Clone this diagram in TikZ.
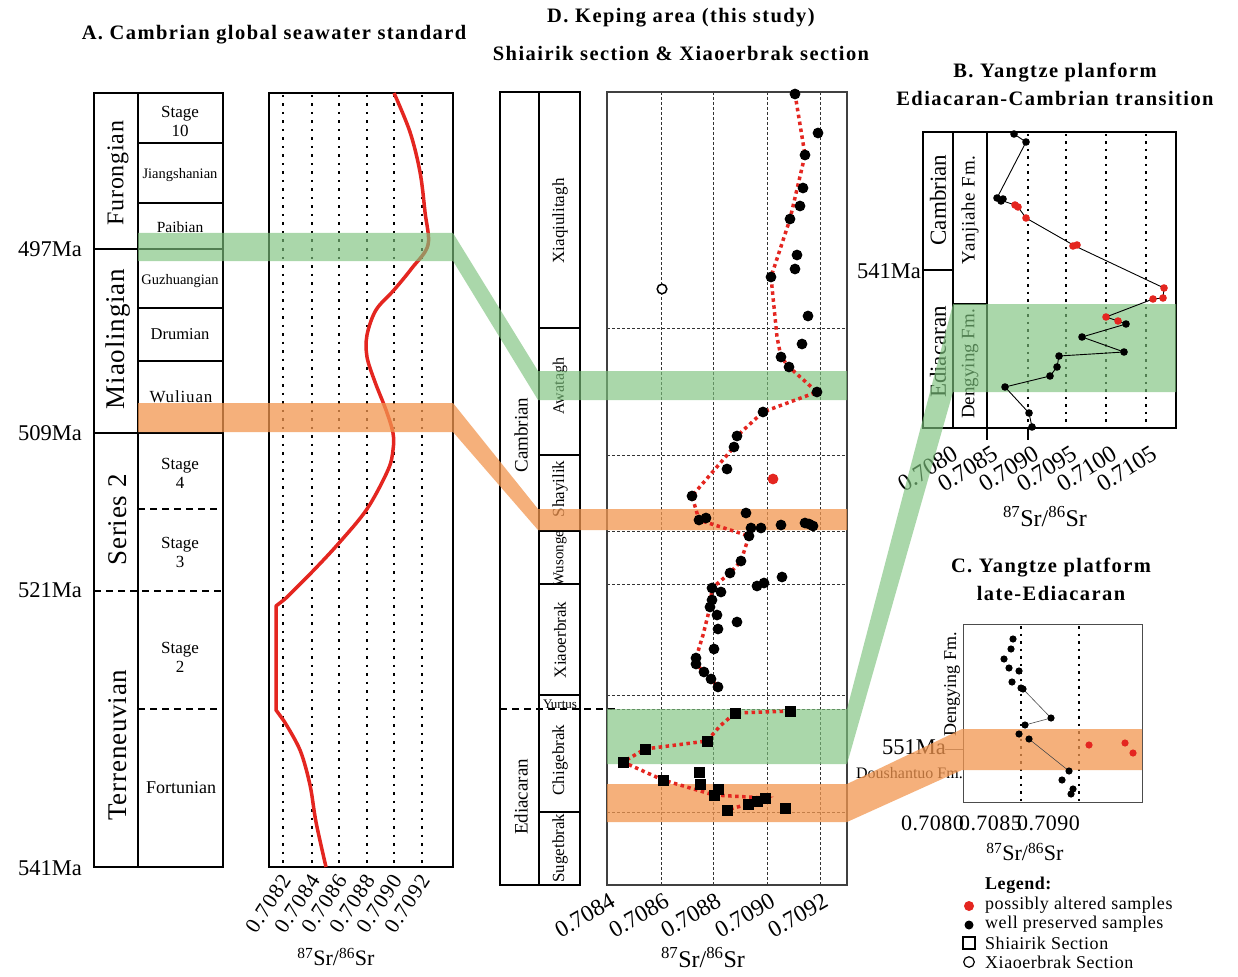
\documentclass[tikz,border=0pt]{standalone}
\usepackage{fontspec}
\setmainfont{Liberation Serif}
\newcommand\fsz[1]{\fontsize{#1}{#1}\selectfont}
\definecolor{srred}{RGB}{228,38,32}
\definecolor{bandgreen}{RGB}{125,195,125}
\definecolor{bandorange}{RGB}{242,150,80}
\begin{document}
\begin{tikzpicture}[x=1pt,y=-1pt,
  ttl/.style={inner sep=0pt,font=\fsz{20.5}\bfseries\addfontfeature{LetterSpace=7}},
  lbl/.style={inner sep=0pt},
  thickA/.style={line width=2.5pt},
  dashA/.style={line width=2.5pt,dash pattern=on 7pt off 5pt},
  dotA/.style={line width=1.8pt,dash pattern=on 2.5pt off 6pt},
  gridD/.style={line width=0.7pt,black!80,dash pattern=on 3pt off 2pt},
  redline/.style={srred,line width=3.5pt,dash pattern=on 3.5pt off 3.5pt},
  bandG/.style={fill=bandgreen,fill opacity=0.65,draw=none},
  bandO/.style={fill=bandorange,fill opacity=0.75,draw=none}]
\useasboundingbox (0,0) rectangle (1238,976);
\fill[white] (0,0) rectangle (1238,976);

% ================= Panel A =================
\node[ttl] (tA) at (274,35) {A. Cambrian global seawater standard};
\draw[thickA] (94,93) rectangle (223,867);
\draw[thickA] (138,93) -- (138,867);
\draw[thickA] (94,249) -- (223,249) (94,433) -- (223,433);
\foreach \y in {143,203,308,361} \draw[thickA] (138,\y) -- (223,\y);
\draw[dashA] (138,509) -- (223,509) (94,591) -- (223,591) (138,709) -- (223,709);
\foreach \t/\y/\s in {Furongian/173/24,Miaolingian/339/27,Series 2/520/27,Terreneuvian/745/27}
  \node[lbl,rotate=90,font=\fsz{\s}\addfontfeature{LetterSpace=3}] (ser\y) at (118,\y) {\t};
\node[lbl,align=center,font=\fsz{17}] (s10) at (180,121) {Stage\\[2pt]10};
\node[lbl,font=\fsz{14.5}] (sji) at (180,175) {Jiangshanian};
\node[lbl,font=\fsz{15.5}] (spa) at (180,227) {Paibian};
\node[lbl,font=\fsz{14.5}] (sgu) at (180,281) {Guzhuangian};
\node[lbl,font=\fsz{16.5}] (sdr) at (180,334) {Drumian};
\node[lbl,font=\fsz{17}\addfontfeature{LetterSpace=5}] (swu) at (181,397) {Wuliuan};
\node[lbl,align=center,font=\fsz{17}] (s4) at (180,473) {Stage\\[2pt]4};
\node[lbl,align=center,font=\fsz{17}] (s3) at (180,552) {Stage\\[2pt]3};
\node[lbl,align=center,font=\fsz{17}] (s2) at (180,657) {Stage\\[2pt]2};
\node[lbl,font=\fsz{18}] (sfo) at (181,788) {Fortunian};
\foreach \t/\y in {497Ma/249,509Ma/433,521Ma/590,541Ma/868}
  \node[lbl,anchor=east,font=\fsz{22.5}] (ma\y) at (82,\y) {\t};
% plot A
\foreach \x in {283,312,339,367,394,422} \draw[dotA] (\x,95) -- (\x,867);
\draw[thickA] (269,93) rectangle (453,867);
\draw[srred,line width=3.5pt,line join=round]
  plot[smooth,tension=0.55] coordinates {(394,93) (410,132) (420,172) (425,212) (428,245) (412,268) (394,290) (376,310) (367,335) (367,357) (375,382) (386,410) (393,433) (393,450) (388,470) (367,509) (339,543) (312,572) (285,599)}
  -- (276,606) -- (276,710) -- (284,721)
  plot[smooth,tension=0.55] coordinates {(284,721) (300,750) (310,785) (316,822) (326,867)};
\foreach \x/\t in {283/0.7082,312/0.7084,339/0.7086,367/0.7088,394/0.7090,422/0.7092}
  \node[lbl,rotate=57,anchor=east,font=\fsz{21.5}\addfontfeature{LetterSpace=6}] (ta\x) at (\x+3,876) {\t};
\node[lbl,font=\fsz{22}] (xa) at (336,957) {\textsuperscript{87}Sr/\textsuperscript{86}Sr};

% ================= Panel D =================
\node[ttl] (tD1) at (681,18) {D. Keping area (this study)};
\node[ttl] (tD2) at (681,53) {Shiairik section \& Xiaoerbrak section};
\draw[line width=2pt] (500,92) rectangle (580,885);
\draw[line width=2pt] (539,92) -- (539,885);
\foreach \y in {328,455,531,584,695,812} \draw[line width=2pt] (539,\y) -- (580,\y);
\draw[line width=2pt,dash pattern=on 7pt off 5pt] (500,709) -- (617,709);
\node[lbl,rotate=90,font=\fsz{19}] (dcam) at (521,435) {Cambrian};
\node[lbl,rotate=90,font=\fsz{19}] (dedi) at (521,797) {Ediacaran};
\node[lbl,rotate=90,font=\fsz{17}] (fxq) at (560,221) {Xiaqiulitagh};
\node[lbl,rotate=90,font=\fsz{16}] (faw) at (560,386) {Awatagh};
\node[lbl,rotate=90,font=\fsz{17}] (fsh) at (560,489) {Shayilik};
\begin{scope}
\clip (540,532) rectangle (579,583);
\node[lbl,rotate=90,font=\fsz{15}] (fwu) at (560,553) {Wusongeer};
\end{scope}
\node[lbl,rotate=90,font=\fsz{17}] (fxo) at (560,640) {Xiaoerbrak};
\begin{scope}
\clip (540,696) rectangle (579,708);
\node[lbl,font=\fsz{13}] (fyu) at (560,704) {Yurtus};
\end{scope}
\node[lbl,rotate=90,font=\fsz{17}] (fch) at (560,760) {Chigebrak};
\node[lbl,rotate=90,font=\fsz{17}] (fsu) at (560,848) {Sugetbrak};
\foreach \x in {661,713,767,820} \draw[gridD] (\x,92) -- (\x,885);
\foreach \y in {328,455,531,584,695,709,812} \draw[gridD] (607,\y) -- (847,\y);
\draw[line width=1.2pt,black!75] (607,92) rectangle (847,885);
\foreach \x/\t in {607/0.7084,661/0.7086,713/0.7088,767/0.7090,820/0.7092}
  \node[lbl,rotate=30,anchor=east,font=\fsz{23.5}] (td\x) at (\x+6,899) {\t};
\node[lbl,font=\fsz{24}] (xd) at (703,958) {\textsuperscript{87}Sr/\textsuperscript{86}Sr};

% ================= Panel B =================
\node[ttl] (tB1) at (1055,73) {B. Yangtze planform};
\node[ttl] (tB2) at (1055,98) {Ediacaran-Cambrian transition};
\foreach \x in {1028,1066,1106,1146} \draw[line width=1.5pt,dash pattern=on 2.5pt off 5pt] (\x,134) -- (\x,428);
\draw[line width=1.5pt] (923,132) rectangle (1176,428);
\draw[line width=1.5pt] (953,132) -- (953,428) (987,132) -- (987,440) (1028,428) -- (1028,440);
\draw[line width=1.5pt] (923,270) -- (953,270) (953,304) -- (987,304);
\node[lbl,rotate=90,font=\fsz{23}] (bcam) at (938,200) {Cambrian};
\node[lbl,rotate=90,font=\fsz{23}] (bedi) at (938,352) {Ediacaran};
\node[lbl,rotate=90,font=\fsz{19}\addfontfeature{LetterSpace=4}] (byj) at (970,210) {Yanjiahe Fm.};
\node[lbl,rotate=90,font=\fsz{19}] (bdy) at (970,364) {Dengying Fm.};
\node[lbl,anchor=east,font=\fsz{22.5}] (b541) at (921,271) {541Ma};
\foreach \x/\t in {947/0.7080,987/0.7085,1028/0.7090,1066/0.7095,1106/0.7100,1146/0.7105}
  \node[lbl,rotate=32,anchor=east,font=\fsz{24}] (tb\x) at (\x+9,451) {\t};
\node[lbl,font=\fsz{24}] (xb) at (1045,517) {\textsuperscript{87}Sr/\textsuperscript{86}Sr};

% ================= Panel C =================
\node[ttl] (tC1) at (1051,568) {C. Yangtze platform};
\node[ttl] (tC2) at (1051,593) {late-Ediacaran};
\foreach \x in {1021,1079} \draw[line width=1.5pt,dash pattern=on 2.5pt off 5pt] (\x,626) -- (\x,802);
\draw[line width=0.9pt,black!70] (963,624) rectangle (1142,802);
\draw[line width=0.8pt,black!60] (945,749) -- (963,749);
\node[lbl,rotate=90,font=\fsz{18}] (cdy) at (952,684) {Dengying Fm.};
\node[lbl,anchor=east,font=\fsz{22.5}] (c551) at (946,747) {551Ma};
\node[lbl,anchor=east,font=\fsz{16}] (cdo) at (963,773) {Doushantuo Fm.};
\foreach \x/\t in {963/0.7080,1021/0.7085,1079/0.7090}
  \node[lbl,anchor=east,font=\fsz{22}\addfontfeature{LetterSpace=2}] (tc\x) at (\x+1,823) {\t};
\node[lbl,font=\fsz{22}] (xc) at (1025,852) {\textsuperscript{87}Sr/\textsuperscript{86}Sr};

% ================= Bands =================
\path[bandG] (138,233) -- (453,233) -- (538,371) -- (847,371) -- (847,400) -- (538,400) -- (453,261) -- (138,261) -- cycle;
\path[bandO] (138,403) -- (453,403) -- (538,509) -- (847,509) -- (847,530) -- (538,530) -- (453,432) -- (138,432) -- cycle;
\path[bandG] (607,709) -- (847,709) -- (953,304) -- (1176,304) -- (1176,392) -- (953,392) -- (847,764) -- (607,764) -- cycle;
\path[bandO] (607,784) -- (847,784) -- (962,729) -- (1142,729) -- (1142,770) -- (962,770) -- (847,822) -- (607,822) -- cycle;

% ================= Data D =================
\draw[redline] (795,94) -- (805,155) -- (790,219) -- (771,277) -- (773,297) -- (777,337) -- (781,357) -- (789,367) -- (817,392) -- (763,412) -- (737,436) -- (734,447) -- (692,496) -- (699,520) -- (749,536) -- (741,561) -- (730,573) -- (712,588) -- (710,607) -- (703,635) -- (696,658) -- (696,664) -- (704,672) -- (711,679) -- (718,687);
\draw[redline] (790,711) -- (735,713) -- (720,726) -- (707,741) -- (645,749) -- (623,762) -- (663,780) -- (714,795) -- (765,798) -- (748,804) -- (727,810);
\foreach \x/\y in {795/94,818/133,805/155,803/188,800/206,790/219,797/255,795/269,771/277,808/316,802/344,781/357,789/367,817/392,763/412,737/436,734/447,727/469,692/496,746/513,699/520,706/518,751/528,761/528,781/525,805/523,809/524,813/526,749/536,741/561,730/573,782/577,764/583,757/586,712/588,721/592,712/600,710/607,717/615,737/622,718/629,714/649,696/658,696/664,704/672,711/679,718/687}
  \fill (\x,\y) circle (5.4pt);
\fill[srred] (773,479) circle (5.4pt);
\draw[line width=1.5pt,fill=white] (662,289) circle (4.8pt);
\foreach \x/\y in {790/711,735/713,707/741,645/749,623/762,663/780,699/772,700/784,718/789,714/795,765/798,757/801,748/804,727/810,785/808}
  \fill (\x-5.5,\y-5.5) rectangle ++(11,11);

% ================= Data B =================
\draw[line width=0.9pt] (1014,134) -- (1026,142) -- (997,198) -- (1003,201) -- (1015,205) -- (1018,207) -- (1026,218) -- (1075,246) -- (1164,288) -- (1163,298) -- (1153,299) -- (1106,317) -- (1118,321) -- (1126,324) -- (1082,337) -- (1124,352) -- (1059,356) -- (1057,367) -- (1050,376) -- (1005,387) -- (1029,413) -- (1032,427);
\foreach \x/\y in {1014/134,1026/142,997/198,1001/201,1003/199,1126/324,1082/337,1124/352,1059/356,1057/367,1050/376,1005/387,1029/413,1032/427}
  \fill (\x,\y) circle (3.8pt);
\foreach \x/\y in {1015/205,1018/207,1026/218,1073/246,1077/245,1164/288,1163/298,1153/299,1106/317,1118/321}
  \fill[srred] (\x,\y) circle (3.8pt);

% ================= Data C =================
\draw[line width=0.6pt,black!70] (1023,689) -- (1051,718) -- (1025,725) (1029,739) -- (1069,771);
\foreach \x/\y in {1013/639,1011/649,1004/659,1009/668,1019/671,1012/682,1021/688,1023/689,1051/718,1025/725,1019/734,1029/739,1069/771,1062/780,1073/789,1071/794}
  \fill (\x,\y) circle (3.6pt);
\foreach \x/\y in {1089/745,1125/743,1133/753}
  \fill[srred] (\x,\y) circle (3.6pt);

% ================= Legend =================
\node[lbl,anchor=west,font=\fsz{18}\bfseries\addfontfeature{LetterSpace=3}] (lgt) at (985,885) {Legend:};
\fill[srred] (969,906) circle (5pt);
\node[lbl,anchor=west,font=\fsz{18}\addfontfeature{LetterSpace=3}] (lg1) at (985,905) {possibly altered samples};
\fill (969,925) circle (4.5pt);
\node[lbl,anchor=west,font=\fsz{18}\addfontfeature{LetterSpace=3}] (lg2) at (985,924) {well preserved samples};
\draw[line width=1.3pt] (963,937) rectangle (975,949);
\node[lbl,anchor=west,font=\fsz{18}\addfontfeature{LetterSpace=3}] (lg3) at (985,943) {Shiairik Section};
\draw[line width=1.2pt] (969,962) circle (5.3pt);
\node[lbl,anchor=west,font=\fsz{18}\addfontfeature{LetterSpace=3}] (lg4) at (985,962) {Xiaoerbrak Section};
\end{tikzpicture}
\end{document}
